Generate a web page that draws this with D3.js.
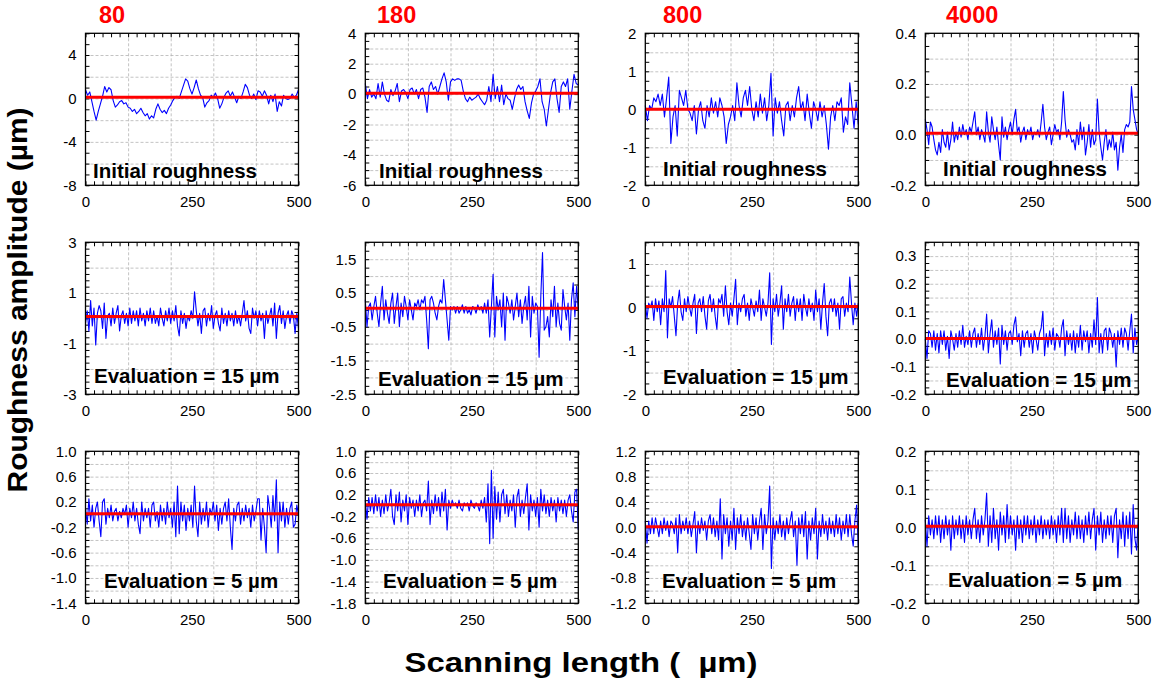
<!DOCTYPE html>
<html><head><meta charset="utf-8">
<script src="https://cdn.jsdelivr.net/npm/d3@7"></script>
<style>
body{margin:0;background:#fff;}
svg{display:block;font-family:"Liberation Sans",Arial,Helvetica,sans-serif;}
.grid line{stroke:#b4b4b4;stroke-width:0.8;stroke-dasharray:3,2;}
.grid .domain{display:none;}
.minor line{stroke:#000;stroke-width:1;}
.minor .domain{display:none;}
.lbl .domain{display:none;}
.lbl text{font-size:15px;fill:#000;}
</style></head><body>
<svg id="chart" width="1152" height="679"></svg>
<script>
// ---------------- data ----------------
const gritLabels = ["80", "180", "800", "4000"];
const rowLabels = ["Initial roughness", "Evaluation = 15 \u00b5m", "Evaluation = 5 \u00b5m"];
const xDomain = [0, 500];
const xTickLabels = [0, 250, 500];
const xGridValues = [100, 200, 300, 400];
const xMinorStep = 20;

// y domains (row by row, column by column)
const yDomainsInitial = [[-8, 6], [-6, 4], [-2, 2], [-0.2, 0.4]];
const yDomainsEval15 = [[-3, 3], [-2.5, 2], [-2, 1.5], [-0.2, 0.35]];
const yDomainsEval5 = [[-1.4, 1.0], [-1.8, 1.0], [-1.2, 1.2], [-0.2, 0.2]];

// y tick labels
const yTicksInitial = [[-8, -4, 0, 4], [-6, -4, -2, 0, 2, 4], [-2, -1, 0, 1, 2], [-0.2, 0.0, 0.2, 0.4]];
const yTicksEval15 = [[-3, -1, 1, 3], [-2.5, -1.5, -0.5, 0.5, 1.5], [-2, -1, 0, 1], [-0.2, -0.1, 0.0, 0.1, 0.2, 0.3]];
const yTicksEval5 = [[-1.4, -1.0, -0.6, -0.2, 0.2, 0.6, 1.0], [-1.8, -1.4, -1.0, -0.6, -0.2, 0.2, 0.6, 1.0],
  [-1.2, -0.8, -0.4, 0.0, 0.4, 0.8, 1.2], [-0.2, -0.1, 0.0, 0.1, 0.2]];
const yDecimalsInitial = [0, 0, 0, 1];
const yDecimalsEval15 = [0, 1, 0, 1];
const yDecimalsEval5 = [1, 1, 1, 1];

// mean (red) lines
const meanInitial = [0.1, 0.05, 0.0, 0.005];
const meanEval15 = [0.07, 0.05, 0.02, 0.002];
const meanEval5 = [0.015, 0.015, 0.01, 0.003];

// roughness profiles (um), equally spaced over 0..500 um
const s80Initial = [0.8,0.3,0.6,-0.3,-1.2,-2.0,-1.2,-0.5,0.2,1.1,0.6,1.0,0.8,-0.2,-0.8,-0.6,-0.3,-0.2,-0.5,-0.4,
 -0.8,-0.9,-1.2,-1.0,-1.4,-1.2,-0.9,-1.3,-1.6,-1.4,-1.9,-1.6,-1.8,-1.0,-0.5,-1.0,-1.3,-1.1,-1.4,-0.9,
 -0.6,-0.2,0.1,0.2,0.0,0.6,1.2,1.8,1.6,0.9,0.4,1.0,1.7,0.9,0.3,0.1,-0.8,-0.4,-0.2,0.3,
 0.1,0.5,0.0,-0.9,-0.5,0.1,0.5,0.7,0.2,0.6,0.1,-0.4,0.2,0.0,0.6,1.3,1.0,0.3,0.0,0.4,
 -0.1,0.7,0.6,0.2,0.7,0.3,-0.5,0.3,-0.3,0.4,-1.2,-0.3,-0.7,0.3,0.0,-0.1,0.0,0.4,0.1,0.3,0.8];
const s180Initial = [0.7,-0.3,0.3,-0.2,0.0,-0.3,0.7,-0.2,0.8,0.0,-0.4,-0.5,0.3,-0.1,0.2,0.7,-0.5,0.2,0.3,0.1,
 -0.3,0.3,0.4,0.0,0.3,-0.3,0.3,0.4,-0.2,-1.2,0.5,0.8,0.3,0.5,0.0,0.5,1.0,1.4,0.8,-0.4,
 0.8,1.0,0.9,1.0,1.0,0.9,0.2,-0.3,-0.5,-0.2,-0.4,-0.3,-0.2,0.0,-0.3,-0.5,-0.7,-0.4,0.5,-0.5,
 1.3,-0.3,0.5,-0.5,0.6,-0.7,0.0,-0.3,-0.4,-1.0,-0.3,0.3,0.6,0.3,0.5,-0.5,-1.1,-1.6,-0.6,0.0,
 0.2,0.5,1.0,-0.5,-1.0,-2.1,-1.0,0.1,0.8,1.0,-0.3,-1.2,0.5,0.8,0.5,1.0,-1.0,0.2,1.3,0.7,0.6];
const s800Initial = [0.1,-0.3,0.1,0.0,0.3,0.2,0.4,0.1,0.4,-0.2,0.3,0.85,-0.9,-0.2,0.1,-0.7,0.5,0.3,0.1,0.5,
 0.0,-0.1,-0.3,0.1,-0.65,0.0,0.2,-0.3,-0.5,0.1,-0.2,0.3,-0.1,0.2,-0.2,0.3,0.1,-0.2,-0.9,-0.4,
 -0.2,0.1,-0.3,0.7,0.1,-0.2,0.3,0.5,0.1,0.6,0.0,-0.3,0.2,-0.2,0.4,-0.1,0.3,-0.3,0.1,0.95,
 -0.7,0.3,-0.1,0.2,-0.3,-0.7,0.1,0.2,-0.3,0.1,-0.2,0.3,0.6,0.0,0.2,-0.3,0.4,-0.1,-0.5,0.2,
 0.0,-0.3,0.2,-0.2,0.1,-0.4,-1.05,-0.2,0.1,-0.3,0.2,0.1,0.3,-0.6,-0.2,-0.4,0.7,0.1,-0.5,0.2,-0.4];
const s4000Initial = [0.06,0.02,-0.04,0.05,0.03,-0.02,-0.06,-0.08,-0.03,-0.07,
 0.02,-0.03,-0.05,0.01,-0.06,-0.02,0.05,-0.03,0.01,-0.02,
 0.03,-0.01,0.04,0.0,0.02,-0.02,0.03,0.01,0.05,0.09,
 0.0,0.03,-0.02,0.02,0.0,-0.03,0.09,0.01,-0.03,0.07,
 0.02,-0.02,0.03,-0.04,-0.1,0.07,-0.01,0.03,-0.02,0.02,
 0.05,0.0,0.06,0.1,0.01,0.03,-0.03,0.01,0.03,-0.02,
 0.02,0.0,0.03,-0.02,0.01,0.0,0.02,-0.01,0.05,0.12,
 0.03,-0.02,0.01,0.03,-0.04,0.0,0.04,0.01,0.02,-0.02,
 0.05,0.17,0.06,-0.01,0.02,0.0,-0.03,-0.02,-0.06,0.02,
 -0.04,0.05,-0.02,0.03,-0.08,-0.03,0.04,-0.05,0.02,-0.04,
 -0.02,0.14,0.01,-0.05,-0.1,-0.03,0.02,-0.06,-0.02,-0.05,
 0.01,-0.06,-0.03,-0.14,-0.05,0.0,-0.07,0.02,0.04,0.03,
 0.05,0.19,0.1,0.06,0.02,0.0];
const s80Eval15 = [-0.2,0.3,-0.5,0.7,-0.3,0.4,-1.05,0.2,0.5,0.3,
 -0.4,0.6,-0.8,0.1,0.2,-0.3,0.4,-0.2,0.2,0.5,
 -0.5,0.1,0.3,-0.2,0.2,-0.3,0.4,-0.2,0.3,-0.1,
 0.3,-0.3,0.4,-0.1,0.2,-0.3,0.3,-0.1,0.4,-0.2,
 0.3,-0.2,0.1,-0.3,0.4,0.0,-0.3,0.3,-0.1,0.4,
 -0.2,0.3,-0.1,0.5,-0.3,-0.7,0.3,-0.2,0.2,-0.4,
 0.1,-0.1,0.3,0.0,1.05,0.3,-0.3,0.2,-0.6,0.3,
 0.4,-0.3,0.2,-0.1,0.5,-0.4,0.1,0.3,-0.2,-0.5,
 0.4,-0.2,0.2,-0.3,0.3,-0.1,0.2,-0.3,0.3,-0.2,
 0.1,-0.3,0.2,0.7,-0.1,0.3,-0.4,-0.6,0.4,0.0,
 0.3,-0.3,0.3,-0.1,0.2,-0.8,0.3,-0.2,0.1,0.4,
 -0.3,0.6,-0.8,0.2,0.5,-0.2,0.3,-0.4,0.1,0.3,
 -0.2,0.3,0.1,-0.6,0.2,-0.4];
const s180Eval15 = [0.3,-0.5,0.1,0.2,-0.3,0.1,0.4,-0.1,-0.5,0.2,
 0.7,-0.3,0.3,-0.1,-0.4,0.2,0.5,-0.4,0.1,0.5,
 -0.5,0.2,-0.2,0.4,0.1,-0.3,0.3,0.0,-0.3,0.2,
 0.1,0.3,0.0,0.3,0.2,0.4,-0.3,-1.15,0.3,0.4,
 0.2,-0.1,-0.3,0.1,0.3,0.2,0.9,0.3,-0.3,-0.9,
 0.1,0.0,0.1,-0.1,0.1,-0.1,0.0,0.15,-0.1,0.1,
 -0.1,0.0,-0.15,0.1,0.05,-0.1,0.15,0.0,0.1,-0.1,
 0.2,-0.1,0.3,-0.8,0.1,1.05,-0.8,0.4,0.0,0.3,
 -0.5,0.5,-0.9,0.4,0.2,-0.1,0.3,-0.3,0.1,0.5,
 -0.2,0.3,-0.4,0.1,0.4,-0.3,0.7,-0.8,0.4,-0.1,
 0.2,0.1,-1.4,0.4,1.7,-0.6,-0.5,-0.2,-0.8,0.3,
 -0.2,0.7,-0.5,0.2,-0.4,-0.6,0.6,0.1,-0.3,0.2,
 -0.9,0.3,0.8,-0.2,0.7,0.0];
const s800Eval15 = [0.1,-0.25,0.1,0.0,0.15,-0.3,0.2,-0.1,0.15,-0.4,
 0.2,-0.1,0.85,-0.7,0.2,0.0,0.25,-0.2,-0.65,0.1,
 0.4,-0.1,-0.3,0.2,-0.1,0.25,0.0,-0.2,0.1,0.3,
 -0.6,0.1,0.2,-0.1,0.25,-0.2,-0.5,0.15,0.3,-0.1,
 0.2,-0.2,-0.5,0.2,0.1,0.3,-0.2,0.5,-0.1,-0.4,
 0.1,-0.2,0.2,0.65,-0.4,0.1,-0.1,0.2,0.3,-0.2,
 0.1,-0.3,0.2,0.0,-0.2,0.15,-0.1,0.4,-0.3,0.2,
 0.0,-0.2,0.1,0.8,-0.85,0.2,-0.1,0.3,-0.2,0.1,
 0.5,-0.5,0.2,-0.1,0.3,-0.2,0.1,0.25,-0.3,0.2,
 -0.1,0.2,-0.3,0.3,0.0,-0.2,0.2,-0.1,0.1,-0.3,
 0.4,-0.1,0.2,-0.5,0.1,0.55,-0.2,-0.65,0.1,0.2,
 -0.1,0.2,-0.2,0.1,-0.5,0.2,0.25,-0.2,0.1,-0.1,
 0.7,0.1,-0.4,0.1,-0.2,0.1];
const s4000Eval15 = [0.0,-0.07,0.03,0.02,-0.03,0.03,-0.04,0.02,-0.05,0.03,
 -0.02,0.03,-0.04,0.01,-0.07,0.03,0.0,-0.04,0.02,-0.03,
 0.03,-0.02,0.05,-0.03,0.01,-0.02,0.03,-0.03,0.02,0.04,
 -0.03,0.02,-0.02,0.04,-0.04,0.01,0.09,-0.05,0.02,0.07,
 -0.03,0.03,-0.02,0.04,-0.09,0.05,-0.02,0.03,-0.04,0.02,
 0.03,-0.02,0.05,0.08,-0.01,0.02,-0.06,0.03,-0.03,0.02,
 0.03,-0.03,0.02,-0.05,0.03,0.0,-0.04,0.02,0.04,0.1,
 -0.06,0.02,-0.03,0.03,-0.02,0.04,-0.04,0.02,0.01,-0.03,
 0.04,0.07,-0.06,0.03,-0.02,0.02,-0.04,0.03,-0.05,0.02,
 -0.03,0.05,-0.04,0.03,-0.01,0.03,-0.05,0.02,-0.03,0.07,
 -0.02,0.15,-0.05,0.02,-0.05,0.03,0.04,-0.04,0.04,0.02,
 -0.03,0.02,-0.1,0.03,-0.02,0.04,-0.03,0.04,0.02,-0.04,
 0.03,0.09,-0.05,0.04,-0.02,0.01];
const s80Eval5 = [0.1,-0.15,0.25,-0.1,0.15,-0.2,0.1,0.2,-0.1,-0.35,
 0.2,0.25,-0.15,0.1,-0.05,0.15,-0.1,0.05,0.1,-0.1,
 0.05,-0.05,0.1,0.0,0.15,-0.2,0.1,-0.05,0.2,-0.1,
 0.1,-0.15,-0.3,0.2,-0.1,0.1,-0.05,0.1,-0.2,0.15,
 0.2,-0.1,0.05,-0.2,0.15,-0.1,0.1,-0.15,0.2,-0.05,
 0.1,-0.2,0.2,-0.35,0.45,-0.3,0.2,-0.1,0.15,-0.25,
 0.1,-0.1,0.15,-0.2,0.45,-0.1,-0.35,0.2,-0.15,0.1,
 -0.1,0.2,-0.2,0.1,0.0,0.2,-0.1,0.15,-0.25,0.1,
 -0.15,0.1,0.2,-0.1,0.25,-0.2,-0.55,0.1,-0.1,0.15,
 0.2,-0.15,0.1,-0.1,0.15,-0.05,0.1,-0.2,0.15,-0.1,
 0.05,0.25,0.25,-0.4,0.1,-0.2,-0.6,0.3,0.1,-0.2,
 0.3,-0.1,0.55,-0.6,0.2,-0.1,0.2,-0.2,0.1,-0.15,
 0.1,0.2,-0.2,-0.15,0.15,0.0];
const s180Eval5 = [0.1,-0.25,0.15,-0.1,0.15,-0.15,0.2,-0.1,0.15,-0.2,
 0.1,-0.15,0.2,-0.1,0.05,0.3,-0.2,-0.35,0.2,-0.1,
 0.25,-0.3,0.1,-0.1,0.2,-0.35,0.15,-0.05,0.1,-0.2,
 0.1,-0.1,0.2,-0.2,0.05,0.1,-0.1,0.45,-0.35,0.1,
 -0.15,0.2,-0.1,0.15,-0.2,0.25,-0.1,0.3,-0.45,0.1,
 -0.05,0.1,0.0,0.05,-0.05,0.1,-0.05,-0.1,0.05,0.0,
 0.05,-0.1,0.1,0.0,-0.05,0.05,0.0,-0.1,0.1,-0.05,
 0.15,-0.3,0.4,-0.7,0.65,-0.6,0.35,-0.25,0.25,-0.3,
 0.2,0.3,-0.15,0.2,-0.2,0.1,-0.1,0.2,-0.4,0.15,
 0.3,-0.2,0.1,-0.15,0.15,0.4,-0.45,0.2,-0.1,0.1,
 -0.2,0.15,-0.4,0.3,-0.1,0.2,-0.15,0.1,-0.2,0.15,
 -0.1,0.1,-0.3,0.15,-0.1,0.1,-0.15,0.1,-0.2,0.1,
 0.2,-0.1,-0.3,0.25,0.3,-0.45];
const s800Eval5 = [0.1,-0.25,0.1,-0.1,0.15,-0.1,0.15,0.0,-0.15,0.1,
 -0.1,0.15,-0.05,0.1,-0.15,0.1,0.05,-0.1,0.15,-0.4,
 0.2,-0.1,0.1,-0.05,0.15,-0.1,0.1,-0.15,0.05,0.25,
 -0.4,0.1,-0.1,0.15,-0.05,0.1,-0.2,0.1,0.2,-0.1,
 0.15,-0.15,0.1,-0.2,0.45,-0.5,0.2,-0.1,0.15,-0.3,
 0.1,-0.2,0.3,-0.35,0.15,-0.1,0.2,-0.15,0.1,-0.2,
 0.15,-0.1,-0.35,0.2,-0.1,0.15,-0.2,0.1,0.3,-0.35,
 0.2,-0.1,0.1,0.65,-0.65,0.15,-0.2,0.1,-0.1,0.2,
 -0.15,0.1,-0.2,0.15,-0.1,0.1,0.25,-0.15,0.1,-0.6,
 0.15,-0.1,0.2,-0.15,0.25,-0.5,0.1,-0.2,0.15,-0.1,
 0.3,-0.5,0.1,-0.15,0.2,-0.1,0.1,-0.2,0.15,-0.1,
 0.1,-0.15,0.2,-0.1,0.15,-0.2,0.1,-0.1,0.2,-0.15,
 0.2,-0.1,-0.3,0.1,0.35,-0.3];
const s4000Eval5 = [0.02,-0.05,0.03,-0.02,0.02,-0.03,0.03,-0.02,0.03,-0.04,
 0.02,-0.03,0.03,-0.02,0.02,-0.06,0.03,-0.03,0.02,-0.02,
 0.03,-0.03,0.02,-0.04,0.03,-0.02,0.02,-0.03,0.02,0.05,
 -0.03,0.02,-0.04,0.03,-0.02,0.02,0.09,-0.05,0.03,-0.04,
 0.05,-0.03,0.02,-0.06,0.04,-0.02,0.03,-0.04,0.06,-0.03,
 0.03,-0.02,0.02,-0.06,0.03,-0.03,0.02,-0.04,0.03,-0.02,
 0.03,-0.03,0.02,-0.02,0.03,-0.04,0.02,-0.02,0.03,-0.03,
 0.02,-0.02,0.02,-0.03,0.03,-0.02,0.02,-0.04,0.03,-0.02,
 0.05,-0.04,0.05,-0.03,0.03,-0.04,0.02,-0.02,0.04,-0.03,
 0.03,-0.03,0.02,-0.04,0.03,-0.02,0.04,-0.03,0.02,0.05,
 -0.06,0.03,-0.02,0.04,-0.04,0.02,-0.03,0.03,-0.02,0.03,
 -0.04,0.03,0.05,-0.08,0.02,-0.03,0.04,-0.05,0.03,-0.03,
 0.04,-0.07,0.06,-0.03,-0.06,0.02];

// ---------------- layout ----------------
const colX = [85.5, 365.3, 645.3, 925.3];
const rowY = [33.3, 242.3, 451.3];
const PW = 213, PH = 152;
const gridStepsY = [[2, 1, 0.5, 0.1], [1, 0.5, 0.5, 0.05], [0.2, 0.2, 0.2, 0.05]];
const minorStepsY = [[1, 0.5, 0.25, 0.05], [0.25, 0.25, 0.25, 0.025], [0.1, 0.1, 0.1, 0.025]];
const gritLabelX = [99, 377, 663, 946];
const panelLabelPos = [
  [[93, 177.7], [379, 177.7], [663, 176], [943, 176]],
  [[94, 383], [378, 385.5], [663, 384], [946, 386.5]],
  [[104, 587.7], [383, 587.7], [662, 587.7], [948, 586.7]]
];

const svg = d3.select("#chart");

const rows = [
  {domains: yDomainsInitial, ticks: yTicksInitial, dec: yDecimalsInitial, mean: meanInitial,
   series: [s80Initial, s180Initial, s800Initial, s4000Initial]},
  {domains: yDomainsEval15, ticks: yTicksEval15, dec: yDecimalsEval15, mean: meanEval15,
   series: [s80Eval15, s180Eval15, s800Eval15, s4000Eval15]},
  {domains: yDomainsEval5, ticks: yTicksEval5, dec: yDecimalsEval5, mean: meanEval5,
   series: [s80Eval5, s180Eval5, s800Eval5, s4000Eval5]}
];

function stepsIn(domain, step) {
  const out = [];
  const n = Math.round((domain[1] - domain[0]) / step);
  for (let k = 0; k <= n; k++) out.push(+(domain[0] + k * step).toFixed(4));
  return out;
}

const x = d3.scaleLinear().domain(xDomain).range([0, PW]);
const xMinor = stepsIn(xDomain, xMinorStep);

rows.forEach((row, r) => {
  row.series.forEach((vals, c) => {
    const g = svg.append("g").attr("transform", `translate(${colX[c]},${rowY[r]})`);
    const dom = row.domains[c];
    const y = d3.scaleLinear().domain(dom).range([PH, 0]);
    const gridVals = stepsIn(dom, gridStepsY[r][c]).filter(v => v > dom[0] && v < dom[1]);
    const minorVals = stepsIn(dom, minorStepsY[r][c]);

    // grid
    g.append("g").attr("class", "grid")
      .call(d3.axisLeft(y).tickValues(gridVals).tickSize(-PW).tickFormat(""));
    g.append("g").attr("class", "grid")
      .call(d3.axisBottom(x).tickValues(xGridValues).tickSize(PH).tickFormat(""));

    // minor ticks, inward on all sides
    g.append("g").attr("class", "minor").call(d3.axisLeft(y).tickValues(minorVals).tickSize(-4).tickFormat(""));
    g.append("g").attr("class", "minor").attr("transform", `translate(${PW},0)`)
      .call(d3.axisRight(y).tickValues(minorVals).tickSize(-4).tickFormat(""));
    g.append("g").attr("class", "minor").call(d3.axisTop(x).tickValues(xMinor).tickSize(-4).tickFormat(""));
    g.append("g").attr("class", "minor").attr("transform", `translate(0,${PH})`)
      .call(d3.axisBottom(x).tickValues(xMinor).tickSize(-4).tickFormat(""));

    // profile
    const n = vals.length;
    const pts = vals.map((v, i) => [xDomain[0] + i * (xDomain[1] - xDomain[0]) / (n - 1), v]);
    const line = d3.line().x(d => x(d[0])).y(d => y(d[1]));
    g.append("path").datum(pts).attr("d", line)
      .attr("fill", "none").attr("stroke", "#0000ff").attr("stroke-width", 1.1)
      .attr("stroke-linejoin", "round");

    // mean line
    g.append("path").datum([[xDomain[0], row.mean[c]], [xDomain[1], row.mean[c]]]).attr("d", line)
      .attr("fill", "none").attr("stroke", "#ff0000").attr("stroke-width", 3);

    // frame
    g.append("rect").attr("width", PW).attr("height", PH)
      .attr("fill", "none").attr("stroke", "#000").attr("stroke-width", 1.3);

    // labels
    const fmt = d => d.toFixed(row.dec[c]);
    g.append("g").attr("class", "lbl")
      .call(d3.axisLeft(y).tickValues(row.ticks[c]).tickSize(0).tickPadding(9).tickFormat(fmt));
    g.append("g").attr("class", "lbl").attr("transform", `translate(0,${PH})`)
      .call(d3.axisBottom(x).tickValues(xTickLabels).tickSize(0).tickPadding(11).tickFormat(d3.format("d")));

    // panel label
    svg.append("text").attr("x", panelLabelPos[r][c][0]).attr("y", panelLabelPos[r][c][1])
      .attr("font-size", 20.5).attr("font-weight", "bold").attr("fill", "#000")
      .text(rowLabels[r]);
  });
});

// column titles
gritLabels.forEach((t, c) => {
  svg.append("text").attr("x", gritLabelX[c]).attr("y", 23)
    .attr("font-size", 23.5).attr("font-weight", "bold").attr("fill", "#ff0000").text(t);
});

// axis titles
svg.append("text").attr("transform", "translate(27,300) rotate(-90)")
  .attr("text-anchor", "middle").attr("font-size", 28).attr("font-weight", "bold")
  .attr("textLength", 385).attr("lengthAdjust", "spacingAndGlyphs")
  .text("Roughness amplitude (\u00b5m)");
svg.append("text").attr("x", 581).attr("y", 672)
  .attr("text-anchor", "middle").attr("font-size", 28).attr("font-weight", "bold")
  .attr("textLength", 353).attr("lengthAdjust", "spacingAndGlyphs")
  .style("white-space", "pre")
  .text("Scanning length (  \u00b5m)");
</script>
</body></html>
